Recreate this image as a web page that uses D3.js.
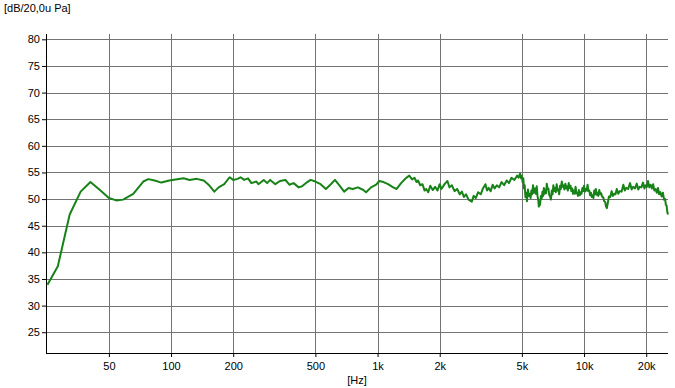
<!DOCTYPE html>
<html>
<head>
<meta charset="utf-8">
<script src="https://cdn.jsdelivr.net/npm/d3@7/dist/d3.min.js"></script>
<style>
  body { margin: 0; background: #fff; }
  svg text { font-family: "Liberation Sans", Arial, sans-serif; font-size: 11px; fill: #000; }
</style>
</head>
<body>
<div id="chart"></div>
<script>
// frequency axis ticks
var freqTicks = [50, 100, 200, 500, 1000, 2000, 5000, 10000, 20000];
var freqLabels = ["50", "100", "200", "500", "1k", "2k", "5k", "10k", "20k"];
// level axis ticks
var levelTicks = [25, 30, 35, 40, 45, 50, 55, 60, 65, 70, 75, 80];

// measured response [Hz, dB], read off the picture
// below 5 kHz
var responseLow = [[25.2, 33.9], [28.3, 37.4], [32.3, 47.1], [36.5, 51.4], [40.7, 53.2], [45.1, 51.75],
  [50, 50.2], [54.3, 49.75], [58.6, 49.9], [65.6, 51.0], [73.4, 53.3], [77.6, 53.75], [83.3, 53.5],
  [89.8, 53.1], [98, 53.5], [115, 53.9], [123, 53.6], [133, 53.8], [144, 53.5], [152, 52.7], [162, 51.4],
  [170, 52.2], [181, 52.8], [192, 54.1], [200, 53.6], [210, 53.8], [217, 54.1], [226, 53.6], [236, 53.9],
  [245, 53.0], [259, 53.3], [265, 52.8], [281, 53.6], [292, 53.0], [302, 53.6], [320, 52.8], [337, 53.4],
  [358, 53.6], [374, 52.7], [392, 53.0], [415, 52.2], [431, 52.4], [457, 53.2], [474, 53.6], [500, 53.3],
  [530, 52.8], [562, 51.9], [594, 52.8], [622, 53.6], [652, 52.6], [689, 51.4], [724, 52.1], [758, 51.9],
  [803, 52.2], [850, 51.75], [880, 51.3], [930, 52.2], [985, 52.7], [1020, 53.4], [1069, 53.2],
  [1124, 52.8], [1191, 52.2], [1237, 51.9], [1300, 53.0], [1370, 53.9], [1424, 54.4], [1470, 53.7],
  [1510, 54.0], [1545, 53.2], [1570, 53.5], [1610, 52.6], [1650, 52.8], [1690, 51.6], [1720, 51.9],
  [1760, 51.3], [1800, 52.5], [1850, 51.7], [1900, 52.3], [1950, 51.6], [2000, 52.8], [2035, 51.9],
  [2070, 52.3], [2120, 52.9], [2180, 53.4], [2230, 52.2], [2290, 52.6], [2360, 51.5], [2430, 51.9],
  [2500, 50.9], [2560, 51.4], [2620, 50.4], [2680, 50.9], [2760, 49.9], [2860, 49.5], [2920, 50.6],
  [2990, 50.2], [3070, 51.3], [3160, 50.9], [3240, 52.0], [3330, 52.8], [3390, 51.6], [3450, 52.1],
  [3530, 51.5], [3610, 52.7], [3690, 52.0], [3780, 52.6], [3880, 52.2], [3990, 53.2], [4100, 52.6],
  [4220, 53.5], [4330, 53.0], [4450, 54.0], [4600, 53.6], [4740, 54.4], [4820, 54.0]];
// from 5 kHz up (dense, noisy part)
var responseHigh = [[4900, 54.8], [4950, 53.9], [4990, 54.4], [5040, 53.2], [5080, 53.9], [5120, 52.0],
  [5160, 52.6], [5200, 50.4], [5240, 51.2], [5290, 49.6], [5350, 51.8], [5400, 50.6], [5460, 51.0],
  [5510, 50.2], [5560, 51.6], [5610, 50.9], [5660, 52.6], [5720, 51.2], [5780, 52.0], [5840, 51.0],
  [5900, 52.4], [5950, 50.6], [6000, 49.9], [6040, 48.6], [6070, 49.4], [6120, 48.9], [6180, 50.6],
  [6230, 50.0], [6290, 51.4], [6340, 50.6], [6390, 52.1], [6450, 51.0], [6500, 51.7], [6550, 51.1],
  [6600, 52.9], [6660, 51.9], [6720, 52.0], [6780, 50.8], [6850, 50.5], [6910, 49.9], [6980, 51.6],
  [7040, 50.9], [7100, 52.6], [7170, 51.5], [7240, 52.1], [7300, 51.3], [7370, 52.8], [7440, 51.6],
  [7520, 51.8], [7580, 50.9], [7650, 52.5], [7720, 51.9], [7800, 53.3], [7870, 52.3], [7950, 52.6],
  [8030, 51.8], [8120, 52.9], [8200, 52.0], [8280, 52.4], [8350, 51.6], [8430, 53.0], [8510, 52.1],
  [8600, 52.5], [8680, 51.5], [8760, 52.0], [8840, 51.0], [8920, 51.6], [9010, 51.0], [9100, 52.3],
  [9180, 51.1], [9270, 51.2], [9350, 50.6], [9440, 51.7], [9530, 50.7], [9630, 51.3], [9720, 51.0],
  [9820, 52.1], [9910, 51.5], [10000, 52.5], [10100, 51.4], [10200, 51.9], [10300, 51.6], [10400, 52.7],
  [10500, 51.5], [10600, 51.6], [10700, 50.7], [10800, 51.2], [10900, 50.4], [11000, 50.7], [11100, 50.2],
  [11200, 51.6], [11300, 50.9], [11400, 51.9], [11500, 50.8], [11600, 51.2], [11720, 50.6], [11850, 51.7],
  [11970, 50.9], [12100, 51.1], [12250, 50.4], [12400, 50.3], [12520, 49.6], [12650, 49.5], [12780, 48.6],
  [12900, 48.3], [13050, 49.4], [13200, 50.5], [13400, 50.4], [13600, 51.5], [13800, 50.6], [14000, 51.0],
  [14200, 50.9], [14400, 51.9], [14650, 51.0], [14900, 51.5], [15200, 51.4], [15500, 52.7], [15750, 51.6],
  [16000, 52.1], [16350, 51.9], [16700, 53.0], [17000, 51.8], [17300, 52.3], [17650, 52.0], [18000, 52.9],
  [18300, 51.8], [18600, 52.3], [18950, 52.2], [19300, 53.1], [19600, 52.0], [19900, 52.6], [20150, 52.3],
  [20400, 53.4], [20700, 52.2], [21000, 52.7], [21300, 52.0], [21600, 52.8], [21900, 51.6], [22200, 51.9],
  [22500, 51.2], [22800, 52.1], [23100, 50.9], [23400, 51.3], [23750, 50.5], [24100, 51.2], [24400, 49.9],
  [24700, 50.0], [24900, 48.9], [25100, 48.8], [25300, 47.6], [25500, 47.1]];

var width = 675, height = 388;
var plotLeft = 46, plotRight = 668, plotTop = 34, plotBottom = 353;

var svg = d3.select("#chart")
  .append("svg")
    .attr("width", width)
    .attr("height", height);

var x = d3.scaleLog()
  .domain([24.8, 25500])
  .range([plotLeft, plotRight]);
var y = d3.scaleLinear()
  .domain([21.1, 81])
  .range([plotBottom, plotTop]);

// grid
var grid = svg.append("g").attr("stroke", "#737373").attr("stroke-width", 1).attr("shape-rendering", "crispEdges");
grid.selectAll("line.h")
  .data(levelTicks)
  .enter()
  .append("line")
    .attr("x1", plotLeft)
    .attr("x2", plotRight)
    .attr("y1", function(d) { return Math.round(y(d)) + 0.5; })
    .attr("y2", function(d) { return Math.round(y(d)) + 0.5; });
grid.selectAll("line.v")
  .data(freqTicks)
  .enter()
  .append("line")
    .attr("y1", plotTop)
    .attr("y2", plotBottom)
    .attr("x1", function(d) { return Math.round(x(d)) + 0.5; })
    .attr("x2", function(d) { return Math.round(x(d)) + 0.5; });

// X axis
var xAxis = svg.append("g")
  .attr("transform", "translate(0," + plotBottom + ")")
  .call(d3.axisBottom(x)
    .tickValues(freqTicks)
    .tickFormat(function(d, i) { return freqLabels[i]; })
    .tickSize(4)
    .tickSizeOuter(0));
xAxis.select(".domain").attr("stroke", "#000").attr("d", "M" + plotLeft + ",0.5H" + plotRight);
xAxis.selectAll("text").attr("font-family", null).attr("font-size", null).attr("y", 9).attr("dy", "0.71em");

// Y axis
var yAxis = svg.append("g")
  .attr("transform", "translate(" + plotLeft + ",0)")
  .call(d3.axisLeft(y)
    .tickValues(levelTicks)
    .tickSize(4)
    .tickSizeOuter(0));
yAxis.select(".domain").attr("stroke", "#000").attr("d", "M0.5," + plotTop + "V" + plotBottom);
yAxis.selectAll("text").attr("font-family", null).attr("font-size", null).attr("x", -6);

// response curve
var pts = responseLow.concat(responseHigh);
svg.append("path")
  .datum(pts)
  .attr("fill", "none")
  .attr("stroke", "#178217")
  .attr("stroke-width", 2)
  .attr("stroke-linejoin", "round")
  .attr("d", d3.line()
    .x(function(d) { return x(d[0]); })
    .y(function(d) { return y(d[1]); }));

// units
svg.append("text")
  .attr("x", 4)
  .attr("y", 12)
  .text("[dB/20,0u Pa]");
svg.append("text")
  .attr("x", 357)
  .attr("y", 384)
  .attr("text-anchor", "middle")
  .text("[Hz]");
</script>
</body>
</html>
